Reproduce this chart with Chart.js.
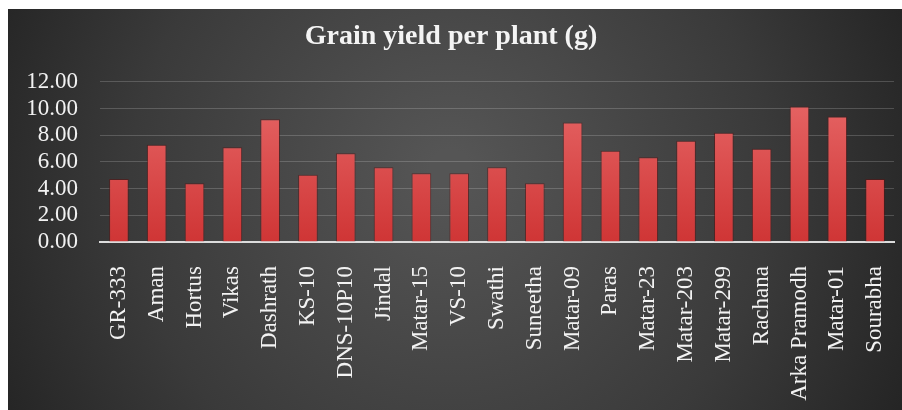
<!DOCTYPE html>
<html>
<head>
<meta charset="utf-8">
<script src="https://cdn.jsdelivr.net/npm/chart.js@4.4.0/dist/chart.umd.min.js"></script>
<style>
	body { margin: 0; background: #ffffff; }
	#wrap { width: 902px; height: 410px; }
</style>
</head>
<body>
<div id="wrap"><canvas id="myChartGrain" width="902" height="410"></canvas></div>
<script>
var variedades = ['GR-333', 'Aman', 'Hortus', 'Vikas', 'Dashrath', 'KS-10', 'DNS-10P10', 'Jindal', 'Matar-15', 'VS-10', 'Swathi',
	'Suneetha', 'Matar-09', 'Paras', 'Matar-23', 'Matar-203', 'Matar-299', 'Rachana', 'Arka Pramodh', 'Matar-01', 'Sourabha'];
var rendimiento = [4.72, 7.28, 4.4, 7.1, 9.2, 5.03, 6.65, 5.6, 5.15, 5.15, 5.6,
	4.4, 8.95, 6.83, 6.35, 7.58, 8.18, 6.98, 10.15, 9.4, 4.72];
var yTicks = [0, 2, 4, 6, 8, 10, 12];

var serif = "'Liberation Serif', 'Times New Roman', serif";

// dark radial backdrop behind the whole chart
var fondo = {
	id: 'fondo',
	beforeDraw: function (chart) {
		var c = chart.ctx;
		var g = c.createRadialGradient(450, 170, 20, 450, 200, 520);
		g.addColorStop(0, '#555555');
		g.addColorStop(0.6, '#3a3a3a');
		g.addColorStop(1, '#222222');
		c.save();
		c.fillStyle = g;
		c.fillRect(8, 9, 894, 401);
		c.restore();
	},
};

function barGradient(context) {
	var chart = context.chart;
	var area = chart.chartArea;
	if (!area) return '#d84444';
	var g = chart.ctx.createLinearGradient(0, area.top, 0, area.bottom);
	g.addColorStop(0, '#e86a6a');
	g.addColorStop(1, '#cf3535');
	return g;
}

var ctx = document.getElementById('myChartGrain');
var myChart = new Chart(ctx, {
	type: 'bar',
	data: {
		labels: variedades,
		datasets: [
			{
				label: 'Grain yield per plant (g)',
				data: rendimiento,
				backgroundColor: barGradient,
				borderColor: 'rgba(90, 20, 20, 0.6)',
				borderWidth: 1,
				categoryPercentage: 1,
				barPercentage: 0.52,
			},
		],
	},
	options: {
		responsive: false,
		animation: false,
		layout: { padding: { left: 8, right: 8, top: 9, bottom: 0 } },
		plugins: {
			legend: { display: false },
			tooltip: { enabled: false },
			title: {
				display: true,
				text: 'Grain yield per plant (g)',
				color: '#f4f4f4',
				font: { family: serif, size: 28, weight: 'bold', lineHeight: 1.1 },
				padding: { top: 12, bottom: 30 },
			},
		},
		scales: {
			x: {
				grid: { display: false, drawTicks: false },
				border: { display: true, color: '#dcdcdc', width: 2 },
				ticks: {
					color: '#f2f2f2',
					font: { family: serif, size: 23, lineHeight: 1 },
					minRotation: 90,
					maxRotation: 90,
					autoSkip: false,
					padding: 24,
				},
				afterFit: function (scale) {
					scale.height = 168;
					scale.paddingLeft = 0;
					scale.paddingRight = 0;
				},
			},
			y: {
				min: 0,
				max: 12,
				afterBuildTicks: function (scale) {
					scale.ticks = yTicks.map(function (v) { return { value: v }; });
				},
				grid: { color: 'rgba(255, 255, 255, 0.18)', lineWidth: 1, drawTicks: false },
				border: { display: false },
				ticks: {
					color: '#f2f2f2',
					font: { family: serif, size: 23, lineHeight: 1 },
					autoSkip: false,
					padding: 22,
					callback: function (v) { return Number(v).toFixed(2); },
				},
				afterFit: function (scale) {
					scale.width = 92;
				},
			},
		},
	},
	plugins: [fondo],
});
</script>
</body>
</html>
